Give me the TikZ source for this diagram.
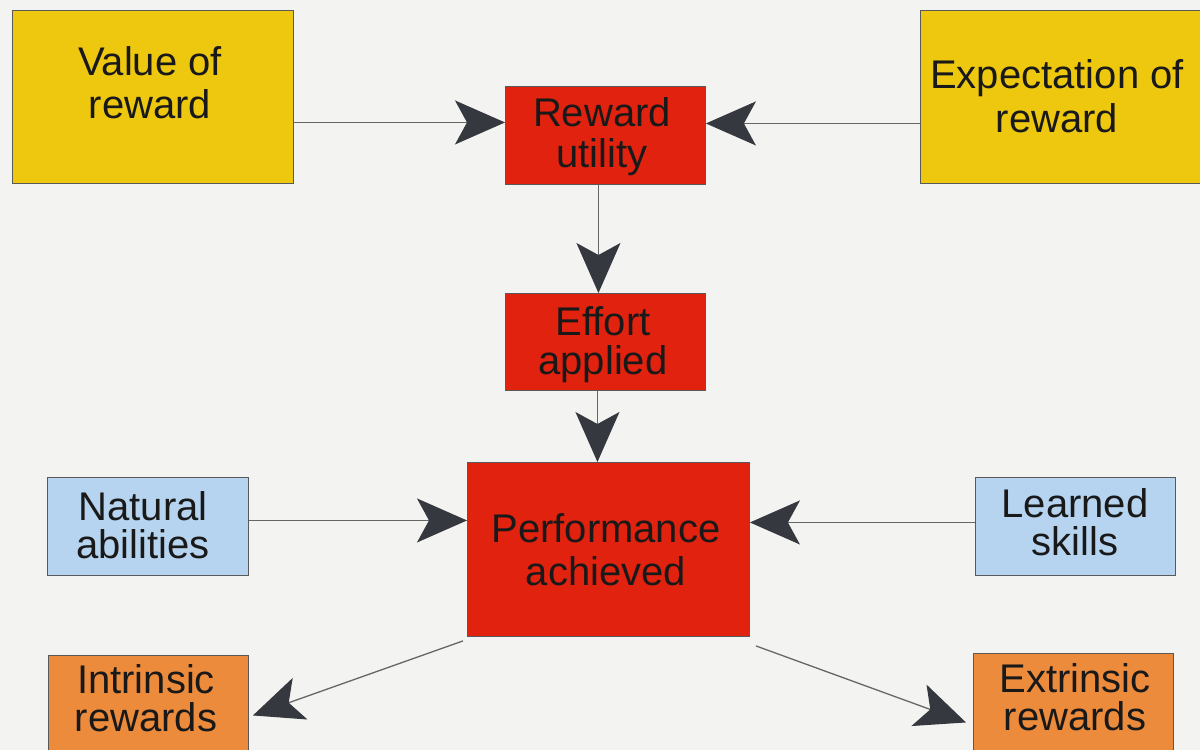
\documentclass[tikz,border=0pt]{standalone}
\usepackage{fontspec}
\setmainfont{Liberation Sans}
\usetikzlibrary{arrows.meta}
\definecolor{bg}{HTML}{F3F3F1}
\definecolor{ylw}{HTML}{EEC80F}
\definecolor{rd}{HTML}{E0220F}
\definecolor{lblue}{HTML}{B6D4EF}
\definecolor{orng}{HTML}{EC8B3C}
\definecolor{tipc}{HTML}{35383E}

\begin{document}
\begin{tikzpicture}[x=1pt,y=-1pt,
  box/.style={draw=black!65,line width=0.9pt,inner sep=0pt,anchor=north west},
  % the base anchor of a two-line label sits on its second baseline
  lbl/.style={font=\fontsize{40}{#1}\selectfont,align=center,anchor=base,inner sep=0pt,text=black!90},
  lbl/.default=43,
  link/.style={draw=black!60,line width=1.3pt,
    -{Stealth[length=50pt,width=44pt,inset=12pt,color=tipc]}}]

\useasboundingbox (0,0) rectangle (1200,750);
\clip (0,0) rectangle (1200,750);
\fill[bg] (0,0) rectangle (1200,750);

% boxes
\node[box,fill=ylw,minimum width=281pt,minimum height=173pt] (vr) at (12,10) {};
\node[box,fill=ylw,minimum width=282pt,minimum height=173pt] (er) at (920,10) {};
\node[box,fill=rd,minimum width=200pt,minimum height=98pt] (ru) at (505,86) {};
\node[box,fill=rd,minimum width=200pt,minimum height=97pt] (ea) at (505,293) {};
\node[box,fill=rd,minimum width=282pt,minimum height=174pt] (pa) at (467,462) {};
\node[box,fill=lblue,minimum width=201pt,minimum height=98pt] (na) at (47,477) {};
\node[box,fill=lblue,minimum width=200pt,minimum height=98pt] (ls) at (975,477) {};
\node[box,fill=orng,minimum width=200pt,minimum height=105pt] (ir) at (48,655) {};
\node[box,fill=orng,minimum width=200pt,minimum height=107pt] (xr) at (973,653) {};

% labels
\node[lbl=43] (vrt) at (150,118) {Value of\\reward};
\node[lbl=44] (ert) at (1057,132) {Expectation of\\reward};
\node[lbl=41] (rut) at (602,167) {Reward\\utility};
\node[lbl=39] (eat) at (603,374) {Effort\\applied};
\node[lbl=43] (pat) at (606,585) {Performance\\achieved};
\node[lbl=38] (nat) at (143,558) {Natural\\abilities};
\node[lbl=38] (lst) at (1075,555) {Learned\\skills};
\node[lbl=38] (irt) at (146,731) {Intrinsic\\rewards};
\node[lbl=38] (xrt) at (1075,730) {Extrinsic\\rewards};

% connectors
\draw[link] ([yshift=-25.5pt]vr.east) -- ([yshift=13pt]ru.west);
\draw[link] ([yshift=-26.5pt]er.west) -- ([yshift=12pt]ru.east);
\draw[link] ([xshift=-7pt]ru.south) -- ([xshift=-7pt]ea.north);
\draw[link] ([xshift=-8pt]ea.south) -- ([xshift=-11pt]pa.north);
\draw[link] ([yshift=6pt]na.east) -- ([yshift=29pt]pa.west);
\draw[link] ([yshift=4pt]ls.west) -- ([yshift=27pt]pa.east);
\draw[link] ([shift={(-4pt,-4pt)}]pa.south west) -- ([shift={(4pt,-7.5pt)}]ir.east);
\draw[link] ([shift={(6pt,-9pt)}]pa.south east) -- ([shift={(-7pt,-15.5pt)}]xr.west);
\end{tikzpicture}
\end{document}
